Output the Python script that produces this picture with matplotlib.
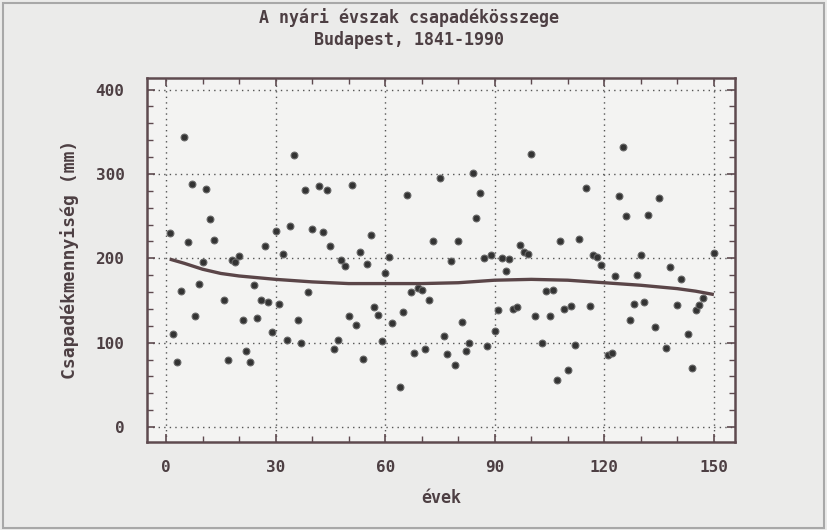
import matplotlib
matplotlib.use("Agg")
import matplotlib.pyplot as plt
from matplotlib.ticker import MultipleLocator, FixedLocator
from matplotlib.patches import Rectangle

# ---- data ----
years = [1, 2, 3, 4, 5, 6, 7, 8, 9, 10, 11, 12, 13, 16, 17, 18, 19, 20,
         21, 22, 23, 24, 25, 26, 27, 28, 29, 30, 31, 32, 33, 34, 35, 36,
         37, 38, 39, 40, 42, 43, 44, 45, 46, 47, 48, 49, 50, 51, 52, 53,
         54, 55, 56, 57, 58, 59, 60, 61, 62, 64, 65, 66, 67, 68, 69, 70,
         71, 72, 73, 75, 76, 77, 78, 79, 80, 81, 82, 83, 84, 85, 86, 87,
         88, 89, 90, 91, 92, 93, 94, 95, 96, 97, 98, 99, 100, 101, 103,
         104, 105, 106, 107, 108, 109, 110, 111, 112, 113, 115, 116, 117,
         118, 119, 121, 122, 123, 124, 125, 126, 127, 128, 129, 130, 131,
         132, 134, 135, 137, 138, 140, 141, 143, 144, 145, 146, 147, 150]
precip = [230, 110, 77, 161, 344, 219, 288, 132, 170, 195, 282, 246, 222,
          151, 80, 198, 195, 203, 127, 90, 77, 168, 129, 150, 215, 148, 113,
          232, 146, 205, 103, 238, 322, 127, 100, 281, 160, 235, 286, 231,
          281, 214, 92, 103, 198, 191, 131, 287, 121, 207, 81, 193, 227, 142,
          133, 102, 182, 202, 123, 48, 136, 275, 160, 88, 165, 162, 93, 150,
          220, 295, 108, 87, 197, 74, 220, 125, 90, 99, 301, 248, 277, 200,
          96, 204, 114, 139, 200, 185, 199, 140, 142, 216, 208, 205, 323,
          131, 99, 161, 131, 162, 56, 221, 140, 67, 143, 97, 223, 283, 143,
          204, 201, 192, 85, 88, 179, 274, 332, 250, 127, 146, 180, 204, 148,
          251, 119, 271, 94, 190, 145, 175, 110, 70, 139, 145, 153, 206]

trend_years = [1, 5, 10, 15, 20, 25, 30, 40, 50, 60, 70, 80, 90, 100, 110,
               120, 130, 140, 145, 150]
trend_vals = [199, 194, 187, 182, 179, 177, 175, 172, 170, 170, 170, 171,
              174, 175, 174, 171, 168, 164, 161, 157]

x_ticks = [0, 30, 60, 90, 120, 150]
y_ticks = [0, 100, 200, 300, 400]

title = "A nyári évszak csapadékösszege\nBudapest, 1841-1990"
xlabel = "évek"
ylabel = "Csapadékmennyiség (mm)"

# ---- style ----
ink = "#4d3f43"
frame = "#5e4a4f"
mono = "DejaVu Sans Mono"
fig = plt.figure(figsize=(8.27, 5.30), dpi=100)
fig.patch.set_facecolor("#ebebea")
fig.patches.append(Rectangle((0.004, 0.004), 0.992, 0.99, transform=fig.transFigure,
                             fill=False, edgecolor="#a8a8a8", linewidth=1.5))

ax = fig.add_axes([0.1774, 0.1666, 0.8888 - 0.1774, 0.8534 - 0.1666])
ax.set_facecolor("#f3f3f2")

ax.scatter(years, precip, s=24, color="#333333", edgecolors="#666666",
           linewidths=0.8, zorder=3)
ax.plot(trend_years, trend_vals, color="#5a4548", linewidth=2.4, zorder=4,
        solid_capstyle="butt")

ax.set_xlim(-5.3, 155.8)
ax.set_ylim(-17.4, 414)
ax.xaxis.set_major_locator(FixedLocator(x_ticks))
ax.yaxis.set_major_locator(FixedLocator(y_ticks))
ax.xaxis.set_minor_locator(MultipleLocator(10))
ax.yaxis.set_minor_locator(MultipleLocator(20))
ax.set_xticklabels([str(v) for v in x_ticks])
ax.set_yticklabels([str(v) for v in y_ticks])

ax.grid(True, which="major", linestyle=(0, (1, 3)), color="#555555",
        linewidth=1.0)
ax.tick_params(which="both", direction="in", top=True, right=True,
               color=frame)
ax.tick_params(which="major", length=6, width=1.2, labelsize=11.5,
               labelcolor=ink)
ax.tick_params(axis="x", which="major", pad=13)
ax.tick_params(axis="y", which="major", pad=16)
ax.tick_params(which="minor", length=4, width=1.0)
for lab in ax.get_xticklabels() + ax.get_yticklabels():
    lab.set_fontfamily(mono)
    lab.set_fontweight("bold")
for sp in ax.spines.values():
    sp.set_color(frame)
    sp.set_linewidth(1.8)

fig.text(0.495, 0.985, title, ha="center", va="top", fontsize=12,
         family=mono, fontweight="bold", color=ink, linespacing=1.3)
ax.set_xlabel(xlabel, fontsize=12, family=mono, fontweight="bold",
              color=ink, labelpad=10)
ax.set_ylabel(ylabel, fontsize=13, family=mono, fontweight="bold",
              color=ink, labelpad=12)

fig.savefig("out.png", dpi=100, facecolor=fig.get_facecolor())
